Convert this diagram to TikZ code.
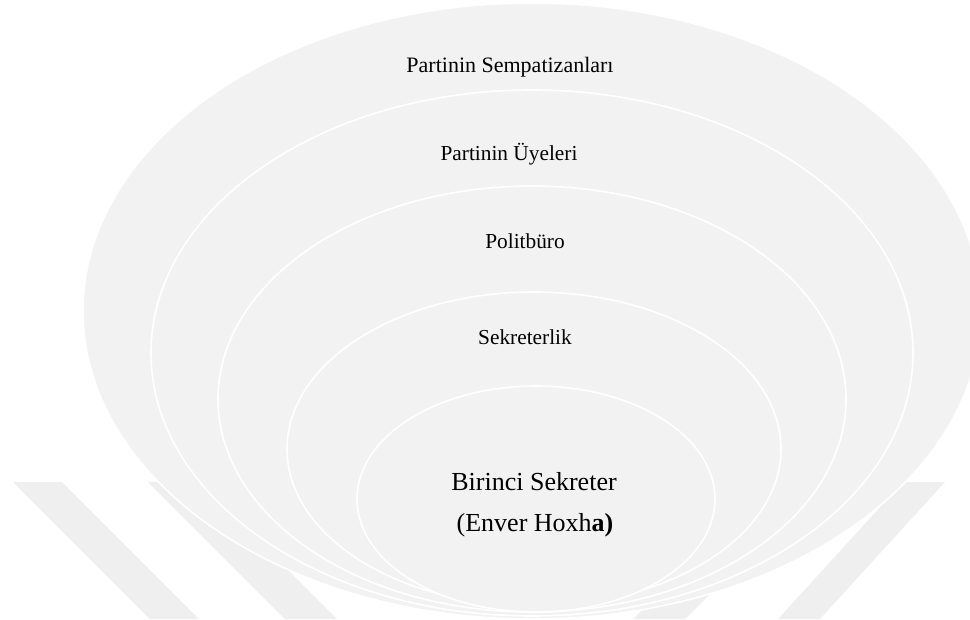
\documentclass[tikz,border=0pt]{standalone}
\usepackage{fontspec}
\setmainfont{Liberation Serif}
\definecolor{ellfill}{RGB}{242,242,242}
\definecolor{wmark}{RGB}{239,239,239}
\tikzset{
  ell/.style={fill=ellfill, draw=white, line width=1.2pt},
  band/.style={fill=wmark},
  lbl/.style={anchor=base, inner sep=0pt, font=\fontsize{16}{19}\selectfont, text=black},
  biglbl/.style={lbl, font=\fontsize{19.5}{22}\selectfont}
}
\begin{document}
\begin{tikzpicture}[x=0.75pt, y=-0.75pt]
\useasboundingbox (0,0) rectangle (970,619);
\clip (0,0) rectangle (970,619);
% watermark bands
\fill[band] (13,482) -- (62,482) -- (199,619) -- (150,619) -- cycle;
\fill[band] (148,482) -- (200,482) -- (337,619) -- (285,619) -- cycle;
\fill[band] (945,482) -- (903,482) -- (778,619) -- (820,619) -- cycle;
\fill[band] (822,482) -- (770,482) -- (633,619) -- (685,619) -- cycle;
% nested ellipses
\path[ell] (532,311) ellipse [x radius=449, y radius=308];
\path[ell] (532,353) ellipse [x radius=381, y radius=263];
\path[ell] (532,399) ellipse [x radius=314, y radius=213];
\path[ell] (534,449) ellipse [x radius=247, y radius=157];
\path[ell] (536,499) ellipse [x radius=179, y radius=113];
% labels
\node[lbl, font=\fontsize{16.5}{19}\selectfont] (t1) at (510,72) {Partinin Sempatizanları};
\node[lbl] (t2) at (509,160) {Partinin Üyeleri};
\node[lbl] (t3) at (525,248) {Politbüro};
\node[lbl] (t4) at (525,344) {Sekreterlik};
\node[biglbl] (t5) at (534,490) {Birinci Sekreter};
\node[biglbl] (t6) at (535,531) {(Enver Hoxh\textbf{a)}};
\end{tikzpicture}
\end{document}
